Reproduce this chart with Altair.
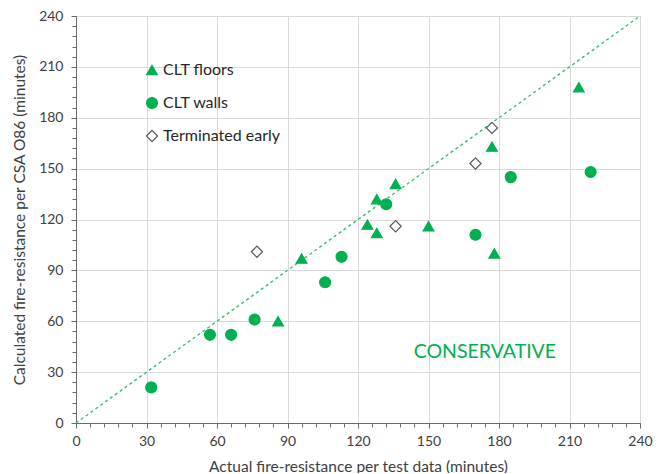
import altair as alt
import pandas as pd

# ---- data ----
floors_x = [214, 177, 136, 128, 124, 128, 150, 178, 96, 86]
floors_y = [198, 163, 141, 132, 117, 112, 116, 100, 97, 60]
walls_x = [32, 57, 66, 76, 106, 113, 132, 170, 185, 219]
walls_y = [21, 52, 52, 61, 83, 98, 129, 111, 145, 148]
term_x = [77, 136, 170, 177]
term_y = [101, 116, 153, 174]

series_names = ["CLT floors", "CLT walls", "Terminated early"]
series_shapes = ["triangle-up", "circle", "diamond"]
series_fill = ["#00B050", "#00B050", "#FFFFFF"]
series_stroke = ["#00B050", "#00B050", "#595959"]
series_size = [115, 125, 75]

line_x = [0, 240]
line_y = [0, 240]

major_ticks = [0, 30, 60, 90, 120, 150, 180, 210, 240]
minor_ticks = list(range(0, 241, 6))

note_text = ["CONSERVATIVE"]
note_x = [174]
note_y = [42]

rows = []
for name, xs, ys in [(series_names[0], floors_x, floors_y),
                     (series_names[1], walls_x, walls_y),
                     (series_names[2], term_x, term_y)]:
    for a, b in zip(xs, ys):
        rows.append({"x": a, "y": b, "series": name})
pts = pd.DataFrame(rows)
diag = pd.DataFrame({"x": line_x, "y": line_y})
note = pd.DataFrame({"x": note_x, "y": note_y, "t": note_text})

FONT = "Lato"
TXT = "#404040"
AXC = "#6b6b6b"

xscale = alt.Scale(domain=[0, 240], nice=False, zero=True)
yscale = alt.Scale(domain=[0, 240], nice=False, zero=True)

major_x_axis = alt.Axis(values=major_ticks, orient="bottom", grid=True, gridColor="#d9d9d9",
                        tickSize=5, tickColor=AXC, domainColor=AXC, labelFont=FONT,
                        labelFontSize=14, labelColor=TXT, labelPadding=6, labelFlush=False,
                        title="Actual fire-resistance per test data (minutes)",
                        titleFont=FONT, titleFontSize=15.5, titleFontWeight="normal",
                        titleColor=TXT, titlePadding=11)
major_y_axis = alt.Axis(values=major_ticks, orient="left", grid=True, gridColor="#d9d9d9",
                        tickSize=5, tickColor=AXC, domainColor=AXC, labelFont=FONT,
                        labelFontSize=14, labelColor=TXT, labelPadding=8, labelFlush=False,
                        title="Calculated fire-resistance per CSA O86 (minutes)",
                        titleFont=FONT, titleFontSize=15.5, titleFontWeight="normal",
                        titleColor=TXT, titlePadding=11)
minor_x_axis = alt.Axis(values=minor_ticks, orient="bottom", grid=False, labels=False,
                        domain=False, tickSize=4, tickColor=AXC, title=None)
minor_y_axis = alt.Axis(values=minor_ticks, orient="left", grid=False, labels=False,
                        domain=False, tickSize=4, tickColor=AXC, title=None)

points = alt.Chart(pts).mark_point(filled=False, strokeWidth=1.2, opacity=1).encode(
    x=alt.X("x:Q", scale=xscale, axis=major_x_axis),
    y=alt.Y("y:Q", scale=yscale, axis=major_y_axis),
    shape=alt.Shape("series:N", scale=alt.Scale(domain=series_names, range=series_shapes),
                    legend=alt.Legend(title=None)),
    fill=alt.Fill("series:N", scale=alt.Scale(domain=series_names, range=series_fill),
                  legend=alt.Legend(title=None)),
    color=alt.Color("series:N", scale=alt.Scale(domain=series_names, range=series_stroke),
                    legend=alt.Legend(title=None)),
    size=alt.Size("series:N", scale=alt.Scale(domain=series_names, range=series_size),
                  legend=alt.Legend(title=None)),
)

line = alt.Chart(diag).mark_line(color="#3dbb6e", strokeDash=[3, 3], strokeWidth=1.4).encode(
    x=alt.X("x:Q", scale=xscale, axis=minor_x_axis),
    y=alt.Y("y:Q", scale=yscale, axis=minor_y_axis),
)

text = alt.Chart(note).mark_text(font=FONT, fontSize=19.5, color="#00B050").encode(
    x=alt.X("x:Q", scale=xscale, axis=None),
    y=alt.Y("y:Q", scale=yscale, axis=None),
    text="t:N",
)

chart = alt.layer(line, points, text).resolve_axis(x="independent", y="independent").properties(
    width=564, height=407,
    autosize=alt.AutoSizeParams(type="none"),
    padding={"left": 68, "top": 8, "right": 16, "bottom": 50},
).configure_view(stroke=AXC, strokeWidth=1).configure_legend(
    orient="none", legendX=68, legendY=46, labelFont=FONT, labelFontSize=16,
    labelColor="#262626", rowPadding=17, labelOffset=3, symbolStrokeWidth=1.2,
)

chart.save("out.html", embed_options={"renderer": "svg", "actions": False})
